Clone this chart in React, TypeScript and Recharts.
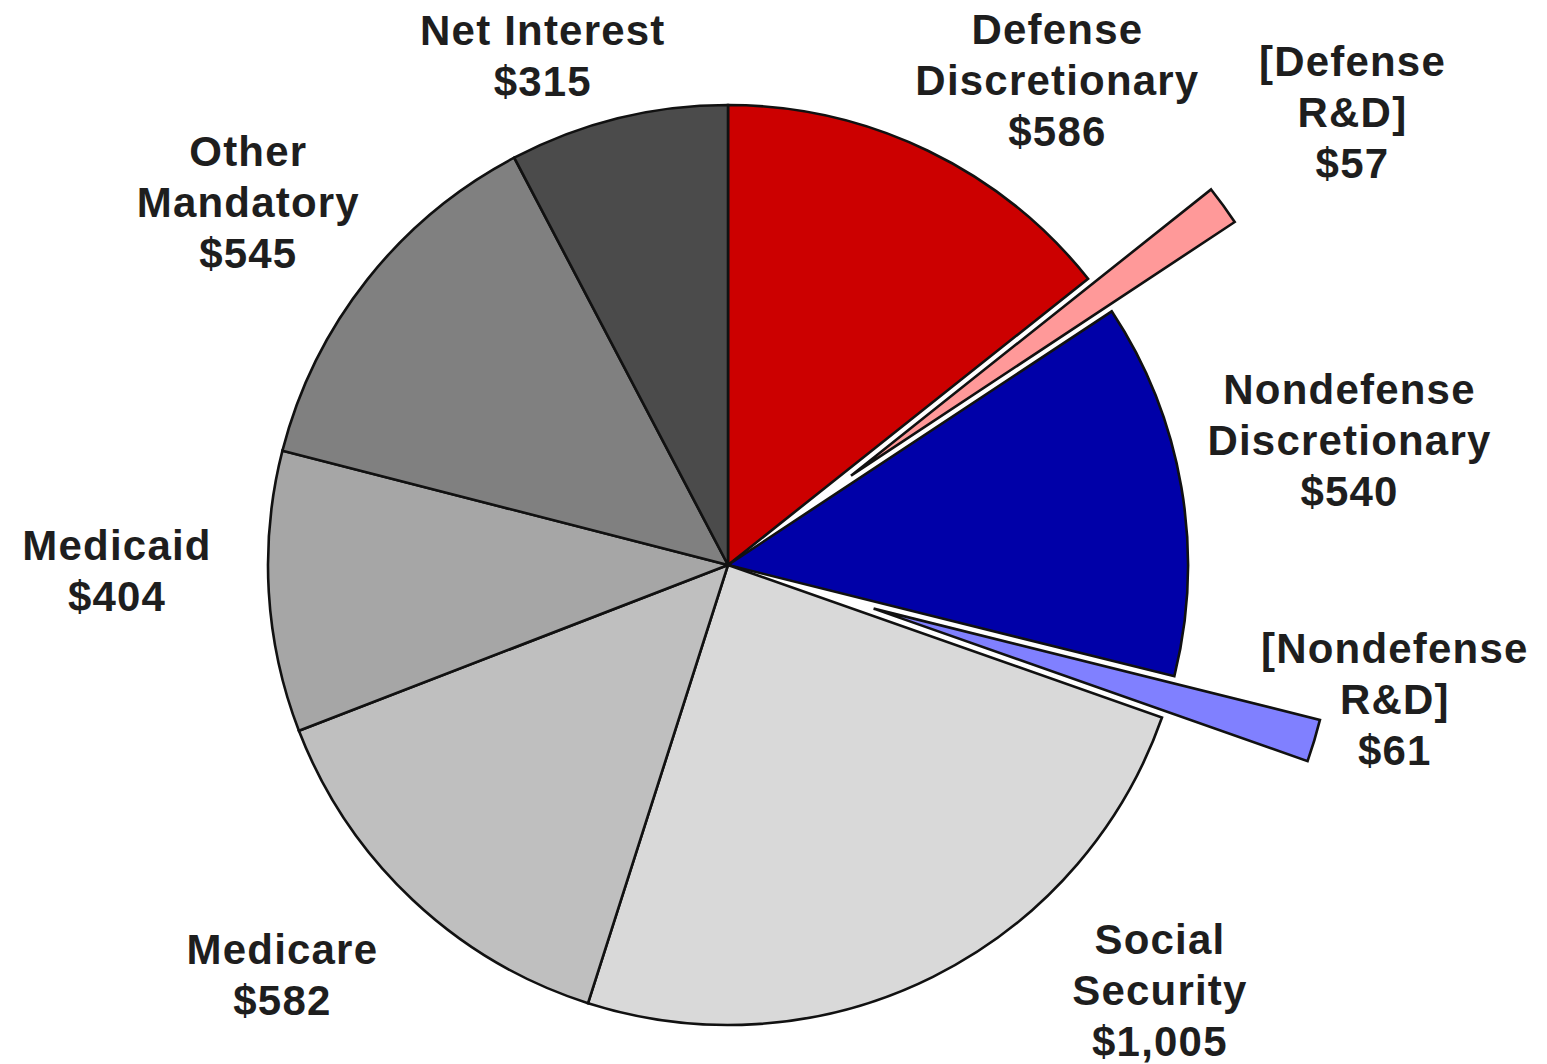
import React from 'react';
import { PieChart, Pie, Cell } from 'recharts';

// ---- data ----
const categories: string[] = [
  'Defense\nDiscretionary',
  '[Defense\nR&D]',
  'Nondefense\nDiscretionary',
  '[Nondefense\nR&D]',
  'Social\nSecurity',
  'Medicare',
  'Medicaid',
  'Other\nMandatory',
  'Net Interest',
];
const values: number[] = [586, 57, 540, 61, 1005, 582, 404, 545, 315];
const exploded: boolean[] = [false, true, false, true, false, false, false, false, false];

// ---- styles / layout ----
const COLORS = ['#CC0000', '#FF9999', '#0000A8', '#8080FF', '#D9D9D9', '#BFBFBF', '#A6A6A6', '#808080', '#4B4B4B'];
const LABEL_NUDGE: [number, number][] = [
  [73, 46], [24, -17], [40, -25], [-44, -79], [169, -103], [-41, -20], [-22, -29], [-17, 3], [-44, 63],
];
const W = 1547;
const H = 1064;
const CX = 728;
const CY = 565;
const R = 460;
const EXPLODE = 152;
const LABEL_GAP = 130;
const LINE = 51;
const FONT = 42;
const STROKE = '#111111';
const STROKE_W = 2.6;

const data = categories.map((c, i) => ({ name: c, value: values[i] }));
const total = values.reduce((a, b) => a + b, 0);

// clockwise-from-top mid angle for a slice, derived from the data
function midAngleCW(i: number): number {
  let before = 0;
  for (let k = 0; k < i; k++) before += values[k];
  return ((before + values[i] / 2) / total) * 360;
}
function explodeShift(i: number) {
  const a = (midAngleCW(i) * Math.PI) / 180;
  return { dx: EXPLODE * Math.sin(a), dy: -EXPLODE * Math.cos(a) };
}

const renderLabel = (props: any) => {
  const { cx, cy, midAngle, outerRadius, index } = props;
  const rad = (-midAngle * Math.PI) / 180;
  const r = outerRadius + (exploded[index] ? EXPLODE : 0) + LABEL_GAP;
  const x = cx + r * Math.cos(rad) + LABEL_NUDGE[index][0];
  const y = cy + r * Math.sin(rad) + LABEL_NUDGE[index][1];
  const lines = [...categories[index].split('\n'), '$' + values[index].toLocaleString('en-US')];
  const n = lines.length;
  return (
    <text
      key={'lbl' + index}
      x={x}
      y={y}
      textAnchor="middle"
      fill="#1e1e1e"
      style={{ fontFamily: '"Liberation Sans", Arial, sans-serif', fontWeight: 700, fontSize: FONT, letterSpacing: 1.2 }}
    >
      {lines.map((l, k) => (
        <tspan key={k} x={x} y={y + (k - (n - 1) / 2) * LINE + 15}>
          {l}
        </tspan>
      ))}
    </text>
  );
};

export default function App() {
  const explodedIdx = exploded.map((e, i) => (e ? i : -1)).filter((i) => i >= 0);
  return (
    <div style={{ position: 'absolute', left: 0, top: 0, width: W, height: H, background: '#fff' }}>
      <PieChart width={W} height={H} margin={{ top: 0, right: 0, bottom: 0, left: 0 }}>
        <Pie
          data={data}
          dataKey="value"
          nameKey="name"
          cx={CX}
          cy={CY}
          outerRadius={R}
          startAngle={90}
          endAngle={-270}
          isAnimationActive={false}
          label={renderLabel}
          labelLine={false}
        >
          {data.map((d, i) => (
            <Cell
              key={i}
              fill={exploded[i] ? 'none' : COLORS[i]}
              stroke={exploded[i] ? 'none' : STROKE}
              strokeWidth={STROKE_W}
            />
          ))}
        </Pie>
        {explodedIdx.map((ei) => {
          const s = explodeShift(ei);
          return (
            <Pie
              key={'ex' + ei}
              data={data}
              dataKey="value"
              nameKey="name"
              cx={CX + s.dx}
              cy={CY + s.dy}
              outerRadius={R}
              startAngle={90}
              endAngle={-270}
              isAnimationActive={false}
              label={false}
              labelLine={false}
            >
              {data.map((d, i) => (
                <Cell
                  key={i}
                  fill={i === ei ? COLORS[i] : 'none'}
                  stroke={i === ei ? STROKE : 'none'}
                  strokeWidth={STROKE_W}
                />
              ))}
            </Pie>
          );
        })}
      </PieChart>
    </div>
  );
}
